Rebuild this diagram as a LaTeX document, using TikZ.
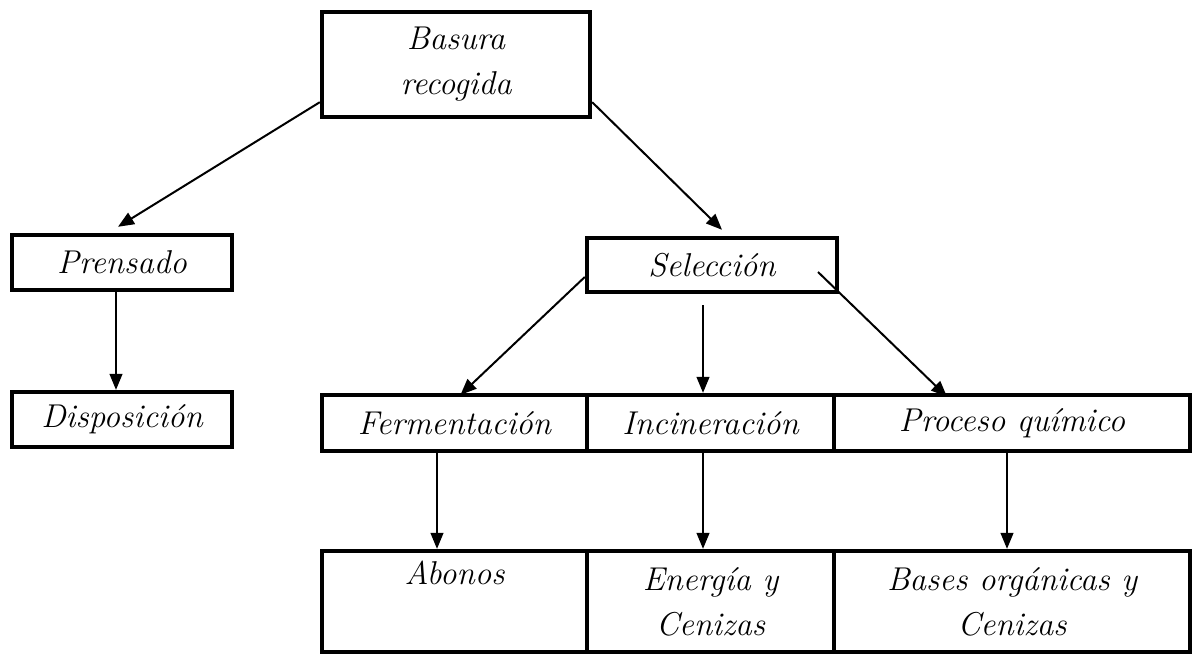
\documentclass[tikz,border=0pt]{standalone}
\usepackage{tikz}
\usetikzlibrary{arrows.meta}

\begin{document}
\begin{tikzpicture}[x=0.5pt,y=-0.5pt,line width=0.6pt,>={Triangle[length=8pt,width=6.5pt]}]
  \tikzset{
    box/.style={draw,line width=2.2pt,rectangle,inner sep=0pt,align=center,
      font=\fontsize{16.5}{22.5}\selectfont\itshape},
    arr/.style={->,line width=1pt},
    varr/.style={->,line width=0.6pt}
  }
  \useasboundingbox (0,0) rectangle (1199,656);

  \node[box,minimum width=134pt,minimum height=52.5pt] (basura) at (456,64.5) {Basura\\recogida};
  \node[box,minimum width=110pt,minimum height=27.5pt] (prensado) at (122,262.5) {Prensado};
  \node[box,minimum width=110pt,minimum height=27.5pt] (disp) at (122,419.5) {Disposición};
  \node[box,minimum width=125pt,minimum height=27pt] (selec) at (712,265) {Selección};

  \node[box,minimum width=132.5pt,minimum height=28pt] (ferm) at (454.5,423) {Fermentación};
  \node[box,minimum width=123.5pt,minimum height=28pt] (incin) at (710.5,423) {Incineración};
  \node[box,minimum width=178pt,minimum height=28pt] (proc) at (1012,423) {Proceso químico};

  \node[box,minimum width=132.5pt,minimum height=50.5pt] (abonos) at (454.5,601.5) {Abonos\\\strut};
  \node[box,minimum width=123.5pt,minimum height=50.5pt] (energia) at (710.5,601.5) {Energía y\\Cenizas};
  \node[box,minimum width=178pt,minimum height=50.5pt] (bases) at (1012,601.5) {Bases orgánicas y\\Cenizas};

  \draw[arr] ([yshift=8.5pt]basura.south west) -- ([xshift=-2pt,yshift=3pt]prensado.north);
  \draw[arr] ([yshift=8.5pt]basura.south east) -- ([xshift=5pt,yshift=3pt]selec.north);
  \draw[varr] ([xshift=-3pt]prensado.south) -- ([xshift=-3pt]disp.north);

  \draw[arr] ([yshift=-6pt]selec.west) -- ([xshift=3pt,yshift=-1pt]ferm.north);
  \draw[varr] ([xshift=-4.5pt,yshift=-5.5pt]selec.south) -- ([xshift=-3.75pt]incin.north);
  \draw[arr] ([xshift=53pt,yshift=-3.5pt]selec.center) -- ([xshift=-32.5pt,yshift=-2pt]proc.north);

  \draw[varr] ([xshift=-8.75pt]ferm.south) -- ([xshift=-8.75pt]abonos.north);
  \draw[varr] ([xshift=-3.75pt]incin.south) -- ([xshift=-3.75pt]energia.north);
  \draw[varr] ([xshift=-2.5pt]proc.south) -- ([xshift=-2.5pt]bases.north);
\end{tikzpicture}
\end{document}
